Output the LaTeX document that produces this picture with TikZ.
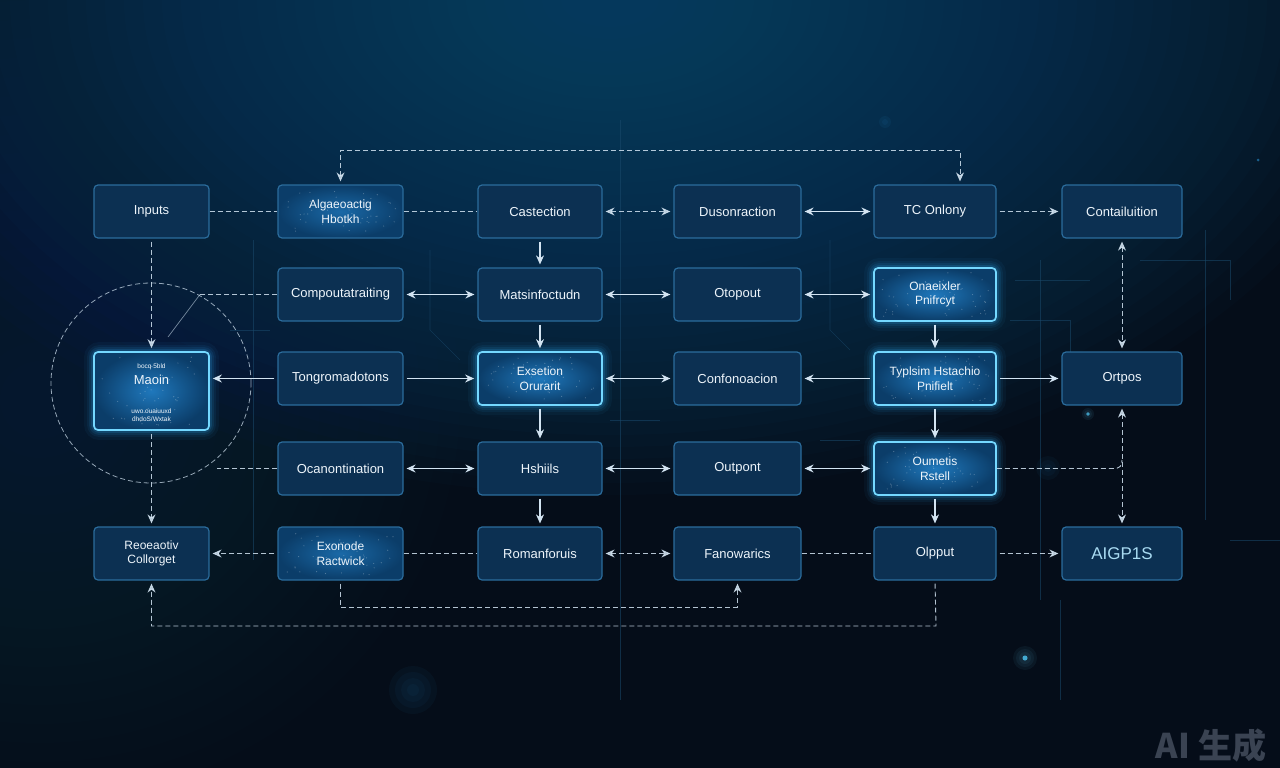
\documentclass[tikz,border=0pt]{standalone}
\usepackage{fontspec}
\setmainfont{Liberation Sans}
\newfontfamily\cjkfont{Noto Sans CJK SC}
\usetikzlibrary{arrows.meta,calc}
\definecolor{bgbase}{HTML}{050D19}
\definecolor{bgtop}{HTML}{135480}
\definecolor{bgleft}{HTML}{0E3658}
\definecolor{boxfill}{HTML}{0C3052}
\definecolor{boxedge}{HTML}{2B6C9C}
\definecolor{glowedge}{HTML}{74D8FF}
\definecolor{glowc}{HTML}{2FA8F0}
\definecolor{ginner}{HTML}{1F78BC}
\definecolor{gouter}{HTML}{0B3D69}
\definecolor{linec}{HTML}{D3E4F2}
\definecolor{trace}{HTML}{1A4A6C}
\definecolor{wm}{HTML}{3A4352}
\definecolor{txt}{HTML}{EEF5FB}
\definecolor{glitch}{HTML}{A9DBF2}
\pgfdeclarelayer{back}
\pgfdeclarelayer{glowl}
\pgfsetlayers{back,glowl,main}
\newcommand\glowit[1]{\begin{pgfonlayer}{glowl}\foreach \w/\o in {18/0.05,12/0.07,8/0.1,4/0.16}{\draw[glowc, line width=\w pt, opacity=\o, rounded corners=6pt] (#1.south west) rectangle (#1.north east);}\end{pgfonlayer}}
\newcommand\speck[3]{\foreach \i in {1,...,45}{\pgfmathsetmacro\dx{rand*#2}\pgfmathsetmacro\dy{rand*#3}\fill[white,opacity=0.28] ($(#1.center)+(\dx,\dy)$) circle (0.6pt);}}
\tikzset{
 box/.style={draw=boxedge, line width=1.2pt, fill=boxfill, rounded corners=4pt, minimum height=53pt, inner sep=2pt, align=center, text=txt, font=\fontsize{13}{15}\selectfont},
 tbox/.style={box, inner color=ginner!75!gouter, outer color=gouter},
 gbox/.style={box, draw=glowedge, line width=1.7pt, inner color=ginner, outer color=gouter},
 two/.style={font=\fontsize{12}{14.5}\selectfont},
 small/.style={text=txt!80, font=\fontsize{6.5}{7.5}\selectfont, align=center, inner sep=0pt},
 sl/.style={draw=linec, line width=1.2pt},
 dl/.style={draw=linec, line width=0.9pt, dash pattern=on 5pt off 3pt, opacity=0.85},
 gap/.style={shorten >=3pt, shorten <=3pt},
 tr/.style={draw=trace, line width=0.6pt, opacity=0.55},
}
\begin{document}
\begin{tikzpicture}[x=1pt,y=-1pt,>={Stealth[length=9pt,width=8pt]}]
\useasboundingbox (0,0) rectangle (1280,768);
\begin{pgfonlayer}{back}
\begin{scope}
\clip (0,0) rectangle (1280,768);
\fill[bgbase] (0,0) rectangle (1280,768);
\foreach \k in {1,...,40}{\fill[bgtop, opacity=0.034] (610,0) ellipse ({30+(41-\k)*19} and {15+(41-\k)*12});}
\foreach \k in {1,...,20}{\fill[bgleft, opacity=0.03] (40,400) ellipse ({20+(21-\k)*20} and {20+(21-\k)*19});}
% faint circuit traces
\draw[tr] (253,240) -- (253,560);
\draw[tr] (430,250) -- (430,330) -- (460,360);
\draw[tr] (620,120) -- (620,700);
\draw[tr] (830,240) -- (830,330) -- (850,350);
\draw[tr] (1040,260) -- (1040,600);
\draw[tr] (1205,230) -- (1205,520);
\draw[tr] (1015,280) -- (1090,280);
\draw[tr] (1010,320) -- (1070,320) -- (1070,360);
\draw[tr] (230,330) -- (270,330);
\draw[tr] (610,420) -- (660,420);
\draw[tr] (1230,540) -- (1280,540);
\draw[tr] (820,440) -- (860,440);
\draw[tr] (1060,600) -- (1060,700);
\draw[tr] (1140,260) -- (1230,260) -- (1230,300);
\foreach \r in {3,6,9,12}{\fill[cyan!60, opacity=0.06] (1025,658) circle (\r);}
\fill[cyan!70!white, opacity=0.8] (1025,658) circle (2.5);
\foreach \r in {2,4,6}{\fill[cyan!60, opacity=0.07] (1088,414) circle (\r);}
\fill[cyan!70!white, opacity=0.7] (1088,414) circle (1.8);
\foreach \r in {6,12,18,24}{\fill[glowc, opacity=0.04] (413,690) circle (\r);}
\foreach \r in {3,6}{\fill[glowc, opacity=0.06] (885,122) circle (\r);}
\fill[glowc, opacity=0.5] (1258,160) circle (1.5);
\foreach \r in {4,8,12}{\fill[glowc, opacity=0.04] (1048,468) circle (\r);}
\end{scope}
\end{pgfonlayer}

% decorative ring
\node[circle, draw=linec, dash pattern=on 5pt off 3pt, line width=0.8pt, opacity=0.7, minimum size=200pt, inner sep=0pt] (ring) at (151,383) {};

% row 1
\node[box, minimum width=115pt] (inp) at (151.5,211.5) {Inputs};
\node[tbox, two, minimum width=125pt] (alg) at (340.5,211.5) {Algaeoactig\\Hbotkh};
\node[box, minimum width=124pt] (cas) at (540,211.5) {Castection};
\node[box, minimum width=127pt] (dus) at (737.5,211.5) {Dusonraction};
\node[box, minimum width=122pt] (tco) at (935,211.5) {TC Onlony};
\node[box, minimum width=120pt] (con) at (1122,211.5) {Contailuition};
% row 2
\node[box, minimum width=125pt] (cmp) at (340.5,294.5) {Compoutatraiting};
\node[box, minimum width=124pt] (mat) at (540,294.5) {Matsinfoctudn};
\node[box, minimum width=127pt] (oto) at (737.5,294.5) {Otopout};
\node[gbox, two, minimum width=122pt] (ona) at (935,294.5) {Onaeixler\\Pnifrcyt};
% row 3
\node[gbox, minimum width=115pt, minimum height=78pt] (main) at (151.5,391) {};
\node[small] (mainA) at (151.5,367) {bocq 5bld};
\node[text=txt, font=\fontsize{13}{15}\selectfont, inner sep=0pt] (mainB) at (151.5,380) {Maoin};
\node[small] (mainC) at (151.5,415) {uwo.ouaiuuxd\\dhdoS/Wxtak};
\node[box, minimum width=125pt] (tng) at (340.5,378.5) {Tongromadotons};
\node[gbox, two, minimum width=124pt] (exs) at (540,378.5) {Exsetion\\Orurarit};
\node[box, minimum width=127pt] (cnf) at (737.5,378.5) {Confonoacion};
\node[gbox, two, minimum width=122pt] (typ) at (935,378.5) {Typlsim Hstachio\\Pnifielt};
\node[box, minimum width=120pt] (ort) at (1122,378.5) {Ortpos};
% row 4
\node[box, minimum width=125pt] (oca) at (340.5,468.5) {Ocanontination};
\node[box, minimum width=124pt] (hsh) at (540,468.5) {Hshiils};
\node[box, minimum width=127pt] (out) at (737.5,468.5) {Outpont};
\node[gbox, two, minimum width=122pt] (oum) at (935,468.5) {Oumetis\\Rstell};
% row 5
\node[box, two, minimum width=115pt] (reo) at (151.5,553.5) {Reoeaotiv\\Collorget};
\node[tbox, two, minimum width=125pt] (exo) at (340.5,553.5) {Exonode\\Ractwick};
\node[box, minimum width=124pt] (rom) at (540,553.5) {Romanforuis};
\node[box, minimum width=127pt] (fan) at (737.5,553.5) {Fanowarics};
\node[box, minimum width=122pt] (olp) at (935,553.5) {Olpput};
\node[box, minimum width=120pt, text=glitch, font=\fontsize{17}{19}\selectfont] (aig) at (1122,553.5) {AIGP1S};

\glowit{main}\glowit{exs}\glowit{ona}\glowit{typ}\glowit{oum}
\pgfmathsetseed{7}
\speck{main}{52}{34}\speck{exs}{55}{22}\speck{ona}{55}{22}\speck{typ}{55}{22}\speck{oum}{55}{22}\speck{alg}{55}{22}\speck{exo}{55}{22}

% row 1 connectors
\draw[dl] (inp) -- (alg);
\draw[dl] (alg) -- (cas);
\draw[dl,<->,gap] (cas) -- (dus);
\draw[sl,<->,gap] (dus) -- (tco);
\draw[dl,->,gap] (tco) -- (con);
\draw[dl,<->,gap] (alg.north) -- (340.5,150) -| ([xshift=25pt]tco.north);
% verticals
\draw[dl,->,gap] (inp) -- (main);
\draw[dl,->,gap] (main) -- (reo);
\draw[sl,->,gap] (cas) -- (mat);
\draw[sl,->,gap] (mat) -- (exs);
\draw[sl,->,gap] (exs) -- (hsh);
\draw[sl,->,gap] (hsh) -- (rom);
\draw[sl,->,gap] (ona) -- (typ);
\draw[sl,->,gap] (typ) -- (oum);
\draw[sl,->,gap] (oum) -- (olp);
\draw[dl,<->,gap] (con) -- (ort);
\draw[dl,<->,gap] (ort) -- (aig);
% row 2
\coordinate (k1) at (200,294.5);
\coordinate (k2) at (168,337);
\draw[dl] (cmp) -- (k1);
\draw[draw=linec, line width=0.7pt, opacity=0.55] (k1) -- (k2);
\draw[sl,<->,gap] (cmp) -- (mat);
\draw[sl,<->,gap] (mat) -- (oto);
\draw[sl,<->,gap] (oto) -- (ona);
% row 3
\draw[sl,->,gap] (tng.west) -- (main.east |- tng.west);
\draw[sl,->,gap] (tng) -- (exs);
\draw[sl,<->,gap] (exs) -- (cnf);
\draw[sl,->,gap] (typ) -- (cnf);
\draw[sl,->,gap] (typ) -- (ort);
% row 4
\coordinate (k3) at (217,468.5);
\draw[dl] (oca) -- (k3);
\draw[sl,<->,gap] (oca) -- (hsh);
\draw[sl,<->,gap] (hsh) -- (out);
\draw[sl,<->,gap] (out) -- (oum);
\coordinate (k4) at (1122,460);
\draw[dl] (oum.east) -- (1113,468.5) .. controls (1120,468.5) and (1122,466) .. (k4);
% row 5
\draw[dl,->,gap] (exo) -- (reo);
\draw[dl] (exo) -- (rom);
\draw[dl,<->,gap] (rom) -- (fan);
\draw[dl] (fan) -- (olp);
\draw[dl,->,gap] (olp) -- (aig);
\draw[dl,->,gap] (exo.south) -- (340.5,607) -| (fan.south);
\draw[dl,->,gap] (olp.south) -- (936,626) -| (reo.south);

% watermark
\node[text=wm, font=\cjkfont\bfseries\fontsize{34}{36}\selectfont, inner sep=0pt] (wmk) at (1211,746) {AI 生成};
\end{tikzpicture}
\end{document}
